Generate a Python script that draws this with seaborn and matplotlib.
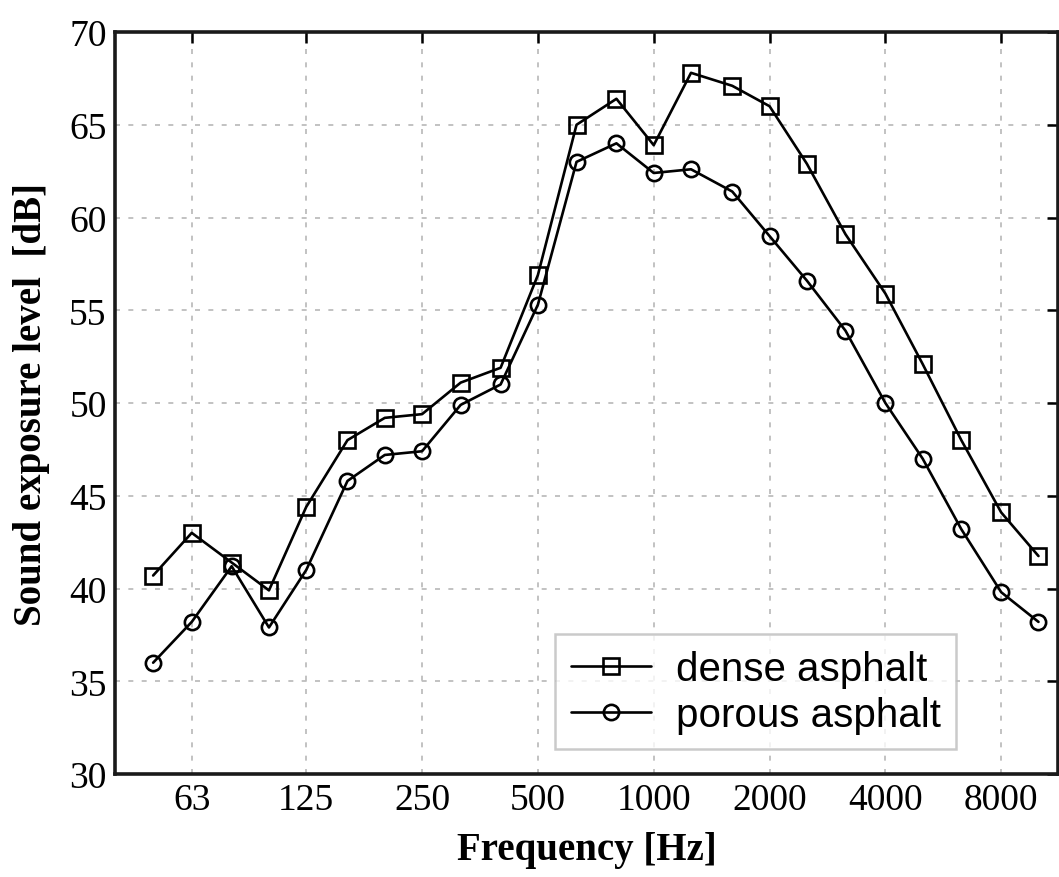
import numpy as np
import pandas as pd
import matplotlib
matplotlib.use("Agg")
import matplotlib.pyplot as plt
import matplotlib.ticker as mticker
import seaborn as sns

# bandes de tiers d'octave (Hz)
freqs = [50, 63, 80, 100, 125, 160, 200, 250, 315, 400, 500, 630, 800,
         1000, 1250, 1600, 2000, 2500, 3150, 4000, 5000, 6300, 8000, 10000]

dense = [40.7, 43.0, 41.4, 39.9, 44.4, 48.0, 49.2, 49.4, 51.1, 51.9, 56.9, 65.0,
         66.4, 63.9, 67.8, 67.1, 66.0, 62.9, 59.1, 55.9, 52.1, 48.0, 44.1, 41.75]
porous = [36.0, 38.2, 41.2, 37.9, 41.0, 45.8, 47.2, 47.4, 49.9, 51.0, 55.3, 63.0,
          64.0, 62.4, 62.6, 61.4, 59.0, 56.6, 53.9, 50.0, 47.0, 43.2, 39.8, 38.2]

tick_freqs = [63, 125, 250, 500, 1000, 2000, 4000, 8000]
tick_labels = ["63", "125", "250", "500", "1000", "2000", "4000", "8000"]
y_ticks = [30, 35, 40, 45, 50, 55, 60, 65, 70]

sns.set_theme(style="white")
plt.rcParams["font.family"] = ["Liberation Serif", "DejaVu Serif"]
plt.rcParams["text.color"] = "black"
plt.rcParams["axes.labelcolor"] = "black"

fig = plt.figure(figsize=(10.59, 8.78), dpi=100)
ax = fig.add_axes([0.1086, 0.1173, 0.8909, 0.8451])

line_kw = dict(color="black", linewidth=1.9, markersize=11,
               markerfacecolor="none", markeredgecolor="black",
               markeredgewidth=1.9)
sns.lineplot(x=freqs, y=dense, marker="s", label="dense asphalt", ax=ax, **line_kw)
sns.lineplot(x=freqs, y=porous, marker="o", label="porous asphalt", ax=ax, **line_kw)

ax.set_xscale("log")
ax.set_xlim(39.8, 11270)
ax.set_ylim(30, 70)
ax.xaxis.set_major_locator(mticker.FixedLocator(tick_freqs))
ax.xaxis.set_major_formatter(mticker.FixedFormatter(tick_labels))
ax.xaxis.set_minor_locator(mticker.NullLocator())
ax.set_yticks(y_ticks)

ax.grid(True, color="#b8b8b8", linestyle=(0, (3, 5)), linewidth=1.2)
ax.tick_params(direction="in", length=8, width=1.8, colors="black",
               top=True, right=True, labelsize=27, pad=6)

for sp in ax.spines.values():
    sp.set_linewidth(2.6)
    sp.set_color("#1a1a1a")

ax.set_xlabel("Frequency [Hz]", fontsize=28, fontweight="bold", labelpad=10)
ax.set_ylabel("Sound exposure level  [dB]", fontsize=28, fontweight="bold", labelpad=14)

leg = ax.legend(loc="lower left", bbox_to_anchor=(0.4666, 0.0337),
                borderaxespad=0, fancybox=False, frameon=True,
                prop={"family": "Liberation Sans", "size": 29},
                handlelength=2.0, handletextpad=0.62, labelspacing=0.2,
                borderpad=0.38)
leg.get_frame().set_edgecolor("#bdbdbd")
leg.get_frame().set_linewidth(1.8)
for t in leg.get_texts():
    t.set_color("black")

fig.savefig("out.png", dpi=100)
